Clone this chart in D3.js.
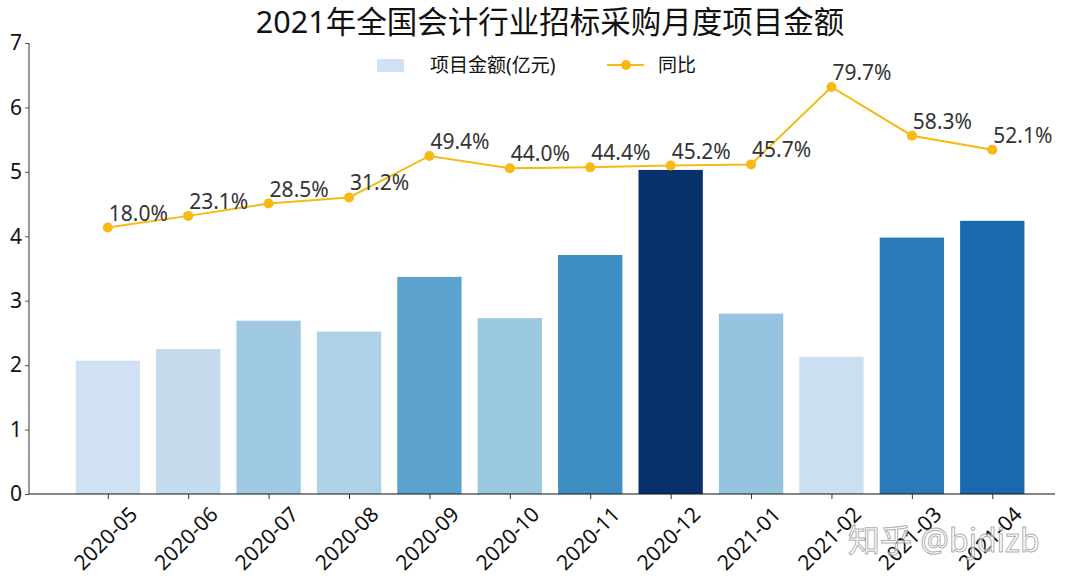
<html>
<head>
<meta charset="utf-8">
<script src="https://d3js.org/d3.v7.min.js"></script>
<style>
  body { margin: 0; background: #fff; }
  text { font-family: "Noto Sans", "Noto Sans CJK SC", sans-serif; }
</style>
</head>
<body>
<div id="chart"></div>
<script>
// data
var months = ["2020-05", "2020-06", "2020-07", "2020-08", "2020-09", "2020-10",
              "2020-11", "2020-12", "2021-01", "2021-02", "2021-03", "2021-04"];
var amount = [2.07, 2.25, 2.69, 2.52, 3.37, 2.73, 3.71, 5.03, 2.80, 2.13, 3.98, 4.24];
var yoy = [18.0, 23.1, 28.5, 31.2, 49.4, 44.0, 44.4, 45.2, 45.7, 79.7, 58.3, 52.1];
var yTicks = [0, 1, 2, 3, 4, 5, 6, 7];

var W = 1080, H = 585;
var pLeft = 29, pRight = 1055, pTop = 43, pBottom = 494;

var svg = d3.select("#chart").append("svg")
    .attr("width", W).attr("height", H);

// scales
var x = d3.scaleLinear().domain([-0.98, 11.78]).range([pLeft, pRight]);
var y = d3.scaleLinear().domain([0, 7]).range([pBottom, pTop]);
var y2 = d3.scaleLinear().domain([-99, 99]).range([pBottom, pTop]);
var color = d3.scaleLinear()
    .domain([d3.min(amount), d3.max(amount)])
    .range([0.2, 1]);

// title
svg.append("text")
    .attr("x", 550).attr("y", 33)
    .attr("text-anchor", "middle")
    .attr("font-size", 30.5)
    .attr("fill", "#111")
    .text("2021年全国会计行业招标采购月度项目金额");

// bars
var bw = 0.8;
svg.selectAll("rect.bar")
    .data(amount)
    .enter()
    .append("rect")
    .attr("class", "bar")
    .attr("x", function(d, i) { return x(i - bw / 2); })
    .attr("y", function(d) { return y(d); })
    .attr("width", function(d, i) { return x(i + bw / 2) - x(i - bw / 2); })
    .attr("height", function(d) { return y(0) - y(d); })
    .attr("fill", function(d) { return d3.interpolateBlues(color(d)); });

// axes
var yAxis = svg.append("g")
    .attr("transform", "translate(" + pLeft + ",0)")
    .call(d3.axisLeft(y).tickValues(yTicks).tickSize(4).tickFormat(d3.format("d")));
yAxis.select(".domain").attr("d", "M0," + pTop + "V" + pBottom)
    .attr("stroke", "#555").attr("stroke-width", 1.2);
yAxis.selectAll(".tick line").attr("stroke", "#555");
yAxis.selectAll(".tick text")
    .attr("font-size", 21).attr("fill", "#111").attr("x", -7);

var xAxis = svg.append("g")
    .attr("transform", "translate(0," + pBottom + ")")
    .call(d3.axisBottom(x).tickValues(d3.range(months.length)).tickSize(5)
        .tickFormat(function(i) { return months[i]; }));
xAxis.select(".domain").attr("d", "M" + pLeft + ",0H" + pRight)
    .attr("stroke", "#111").attr("stroke-width", 1.2);
xAxis.selectAll(".tick line").attr("stroke", "#333");
xAxis.selectAll(".tick text")
    .attr("font-size", 21).attr("fill", "#111")
    .attr("y", 0).attr("dy", 0)
    .attr("text-anchor", "middle")
    .attr("dominant-baseline", "central")
    .attr("transform", "translate(-3,44) rotate(-45)");

// line (secondary, hidden axis)
var lineColor = "#f7b912";
var line = d3.line()
    .x(function(d, i) { return x(i); })
    .y(function(d) { return y2(d); });
svg.append("path")
    .datum(yoy)
    .attr("d", line)
    .attr("fill", "none")
    .attr("stroke", lineColor)
    .attr("stroke-width", 2);
svg.selectAll("circle.pt")
    .data(yoy)
    .enter()
    .append("circle")
    .attr("class", "pt")
    .attr("cx", function(d, i) { return x(i); })
    .attr("cy", function(d) { return y2(d); })
    .attr("r", 5)
    .attr("fill", lineColor);
svg.selectAll("text.lbl")
    .data(yoy)
    .enter()
    .append("text")
    .attr("class", "lbl")
    .attr("x", function(d, i) { return x(i) + 1; })
    .attr("y", function(d) { return y2(d) - 7; })
    .attr("font-size", 21)
    .attr("fill", "#333")
    .text(function(d) { return d.toFixed(1) + "%"; });

// legend
var lg = svg.append("g");
lg.append("rect")
    .attr("x", 377).attr("y", 59).attr("width", 27).attr("height", 13)
    .attr("fill", d3.interpolateBlues(0.2));
lg.append("text")
    .attr("x", 430).attr("y", 72)
    .attr("font-size", 19).attr("fill", "#111")
    .text("项目金额(亿元)");
lg.append("line")
    .attr("x1", 607).attr("x2", 644).attr("y1", 65).attr("y2", 65)
    .attr("stroke", lineColor).attr("stroke-width", 2);
lg.append("circle")
    .attr("cx", 626).attr("cy", 65).attr("r", 5).attr("fill", lineColor);
lg.append("text")
    .attr("x", 658).attr("y", 72)
    .attr("font-size", 19).attr("fill", "#111")
    .text("同比");

// watermark
svg.append("text")
    .attr("x", 848).attr("y", 552)
    .attr("font-size", 32)
    .attr("fill", "#fff").attr("fill-opacity", 0.6)
    .attr("stroke", "#999").attr("stroke-width", 1).attr("stroke-opacity", 0.8)
    .text("知乎 @bjdizb");
</script>
</body>
</html>
